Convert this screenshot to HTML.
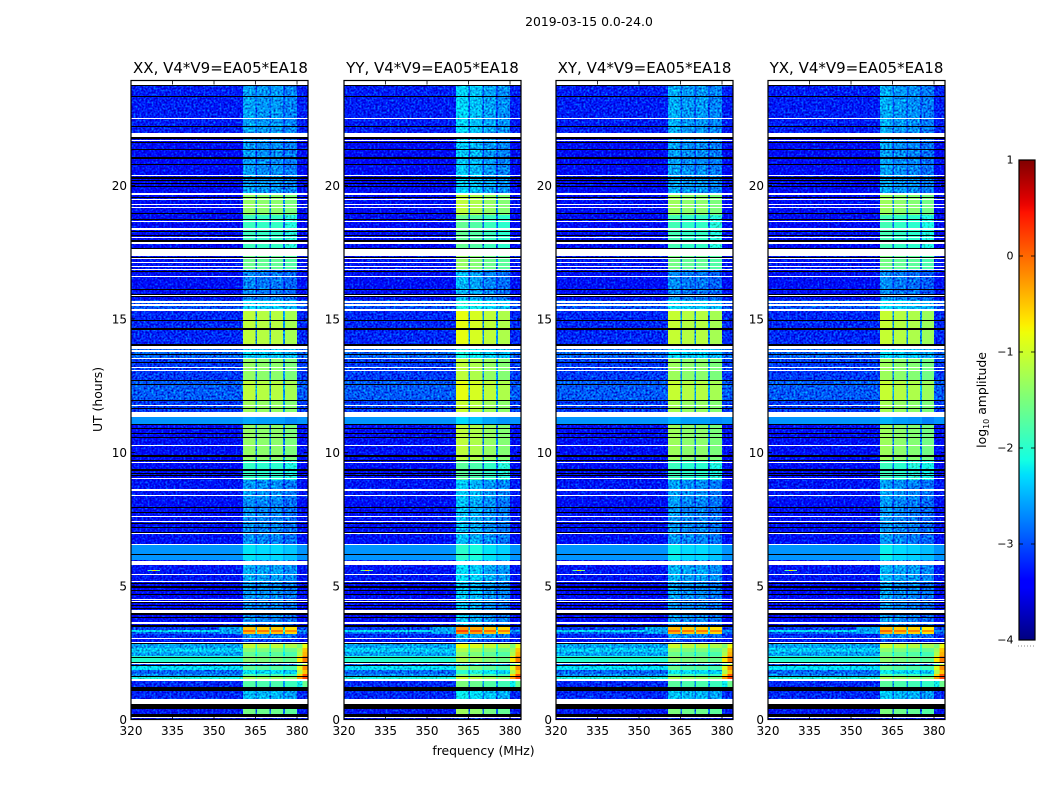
<!DOCTYPE html>
<html>
<head>
<meta charset="utf-8">
<title>2019-03-15 0.0-24.0</title>
<style>
html,body{margin:0;padding:0;background:#fff}
svg{display:block}
text{font-family:"DejaVu Sans","Liberation Sans",sans-serif;fill:#000}
</style>
</head>
<body>
<svg id="figure" xmlns="http://www.w3.org/2000/svg" width="1050" height="800" viewBox="0 0 1050 800">
  <defs>
    <filter id="mottle" x="0" y="0" width="1" height="1" color-interpolation-filters="sRGB">
      <feTurbulence type="fractalNoise" baseFrequency="0.5" numOctaves="2" seed="4" result="n"/>
      <feColorMatrix in="n" type="matrix" result="grain" values="0 0 0 0 0.5  1.3 0 0 0 -0.15  1.0 0 0 0 0  0 0 0 0 1"/>
      <feComposite in="SourceGraphic" in2="grain" operator="arithmetic" k1="0" k2="1" k3="1" k4="-0.5"/>
    </filter>
    <linearGradient id="jet-gradient" x1="0" y1="1" x2="0" y2="0"></linearGradient>
  </defs>
  <rect width="1050" height="800" fill="#fff"/>
  <text x="589" y="26" font-size="12.4" text-anchor="middle">2019-03-15 0.0-24.0</text>
  <text x="220.5" y="73" font-size="15" text-anchor="middle">XX, V4*V9=EA05*EA18</text>
  <text x="432.5" y="73" font-size="15" text-anchor="middle">YY, V4*V9=EA05*EA18</text>
  <text x="644.5" y="73" font-size="15" text-anchor="middle">XY, V4*V9=EA05*EA18</text>
  <text x="856.5" y="73" font-size="15" text-anchor="middle">YX, V4*V9=EA05*EA18</text>
  <text x="483.5" y="755" font-size="12.4" text-anchor="middle">frequency (MHz)</text>
  <text transform="translate(102,399.5) rotate(-90)" font-size="12.4" text-anchor="middle">UT (hours)</text>
  <text transform="translate(986,400) rotate(-90)" font-size="12.4" text-anchor="middle">log<tspan font-size="8" dy="3">10</tspan><tspan dy="-3"> amplitude</tspan></text>
  <g id="panels"></g>
  <g id="colorbar"></g>
</svg>
<script>
/* ---------- chart data ---------- */
const freqTicks = [320, 335, 350, 365, 380];
const utTicks = [0, 5, 10, 15, 20];
const colorTicks = [1, 0, -1, -2, -3, -4];
const panelNames = ['xx', 'yy', 'xy', 'yx'];
/* frequency column edges in MHz and what each column is */
const freqEdges = [320, 360.5, 365, 365.6, 370, 370.6, 375, 375.7, 380, 382, 384];
const columnKinds = ['off', 'on0', 'gap', 'on1', 'gap', 'on2', 'gap', 'on3', 'edgeA', 'edgeB'];
/* time band edges in UT hours, top to bottom */
const bandEdges = [23.76,21.97,20.36,19.68,18.89,17.58,16.84,15.71,15.34,14.03,13.54,12.68,11.97,11.52,11.07,9.72,8.97,8.22,6.54,5.97,5.2,4.55,3.50,3.35,3.27,3.20,3.01,2.87,2.68,2.53,2.38,2.16,2.00,1.85,1.70,1.63,1.44,1.22,0.77,0.39,0.21,0];
/* log10 amplitude per time band */
const offBand = [-3.25,-3.4,-3.4,-3.4,-3.4,-3.3,-3.35,-3.0,-3.2,-2.9,-3.1,-2.95,-3.1,-2.65,-3.35,-3.4,-3.3,-3.35,-2.65,-3.3,-3.45,-3.4,-3.1,-2.3,-2.9,-3.2,-3.3,-2.6,-2.4,-2.6,-2.0,-3.0,-2.3,-2.9,-2.7,-2.1,-3.2,-3.2,-3.2,-3.3,-3.4];
const onBand = [-2.65,-2.7,-2.65,-1.4,-1.95,-1.65,-2.8,-2.4,-1.15,-2.4,-1.4,-1.15,-1.35,-2.6,-1.4,-2.0,-2.7,-2.75,-2.3,-2.6,-2.7,-2.75,-0.55,-0.1,-0.5,-2.75,-3.1,-1.1,-1.5,-1.7,-1.5,-2.6,-1.7,-2.3,-1.8,-1.3,-1.8,-2.5,-2.5,-1.6,-3.3];
const gapBand = [-3.0,-3.1,-3.1,-2.7,-2.9,-2.8,-3.1,-2.7,-2.7,-2.7,-2.7,-2.6,-2.7,-2.6,-2.8,-2.9,-3.1,-3.1,-2.5,-3.0,-3.1,-3.1,-2.5,-1.7,-2.3,-3.0,-3.2,-2.0,-2.0,-2.2,-1.8,-2.8,-2.0,-2.6,-2.2,-1.7,-2.7,-2.9,-2.9,-2.9,-3.4];
const edgeBandA = [-3.25,-3.4,-3.4,-3.4,-3.4,-3.3,-3.35,-3.0,-3.2,-2.9,-3.1,-2.95,-3.1,-2.65,-3.35,-3.4,-3.3,-3.35,-2.65,-3.3,-3.45,-3.4,-3.1,-2.7,-2.9,-3.2,-3.3,-1.5,-1.3,-1.2,-0.7,-1.8,-0.9,-1.2,-0.6,-0.3,-2.2,-3.2,-3.2,-3.3,-3.4];
const edgeBandB = [-3.25,-3.4,-3.4,-3.4,-3.4,-3.3,-3.35,-3.0,-3.2,-2.9,-3.1,-2.95,-3.1,-2.65,-3.35,-3.4,-3.3,-3.35,-2.65,-3.3,-3.45,-3.4,-3.1,-2.7,-2.9,-3.2,-3.3,-0.8,-0.5,-0.4,-0.1,-1.0,-0.2,-0.5,0.1,0.2,-1.6,-3.2,-3.2,-3.3,-3.4];
/* per-panel brightness change of the four on-source sub-bands */
const panelBandShiftXX = [0.05, 0, 0, -0.1];
const panelBandShiftYY = [0.3, 0.2, 0.05, -0.05];
const panelBandShiftXY = [0.1, 0, 0, -0.1];
const panelBandShiftYX = [0.1, 0, -0.05, -0.15];
/* time bands (by top edge, hours) that look smooth, without receiver noise */
const smoothBandTops = [11.52, 6.54];
/* faint shoulder below the on-source block around 3.3 UT */
const shoulderFreq = [352, 360.5];
const shoulderHours = [3.5, 3.2];
const shoulderLevel = -2.6;
/* flagged (blank) time ranges, top/bottom hours */
const flaggedStart = [22.52,21.98,21.71,20.39,19.71,19.50,19.32,19.20,18.67,18.40,18.07,17.87,17.62,17.27,17.14,16.98,16.86,16.61,15.91,15.68,15.55,15.38,14.00,13.83,13.55,13.19,13.10,11.77,11.53,10.28,9.65,9.04,8.63,8.41,7.62,7.45,7.00,6.58,5.95,5.45,5.19,4.52,4.44,4.11,3.64,3.06,2.89,2.10,1.52,0.77,0.09];
const flaggedEnd = [22.49,21.80,21.68,20.35,19.65,19.48,19.29,19.18,18.64,18.33,18.04,17.81,17.36,17.25,17.12,16.96,16.83,16.58,15.87,15.60,15.47,15.31,13.87,13.76,13.51,13.15,13.06,11.73,11.33,10.24,9.62,9.01,8.55,8.37,7.57,7.41,6.96,6.54,5.80,5.41,5.15,4.49,4.40,3.99,3.59,3.01,2.85,2.07,1.44,0.58,0.04];
/* zero-amplitude (black) time ranges, top/bottom hours */
const zeroStart = [23.75,23.36,22.23,21.80,21.62,21.38,21.05,20.80,20.31,20.20,20.08,20.00,19.58,18.98,18.73,18.31,18.16,17.95,17.67,17.33,16.80,16.11,15.95,15.87,14.95,14.65,14.05,13.69,13.40,12.71,12.56,11.97,11.67,11.07,10.92,10.72,10.59,9.89,9.72,9.37,9.24,9.16,7.95,7.77,7.37,7.20,7.03,6.20,5.12,5.00,4.85,4.70,4.40,4.30,4.16,3.98,3.85,3.53,2.85,2.35,2.16,2.04,1.63,1.23,0.57,0.21,0.03];
const zeroEnd = [23.72,23.32,22.20,21.75,21.58,21.33,21.00,20.77,20.25,20.17,20.04,19.98,19.54,18.96,18.70,18.27,18.13,17.89,17.63,17.30,16.76,16.09,15.91,15.83,14.91,14.60,14.00,13.65,13.36,12.67,12.53,11.92,11.62,11.03,10.89,10.68,10.55,9.84,9.69,9.32,9.19,9.14,7.91,7.74,7.32,7.17,7.01,6.17,5.07,4.92,4.81,4.65,4.36,4.25,4.13,3.92,3.80,3.48,2.83,2.30,2.12,2.00,1.59,1.06,0.39,0.10,0];
/* narrow interference feature near 5.6 UT */
const spikeHours = 5.6;
const spikeFreqEdges = [326, 327.5, 329, 330.5];
const spikeLevels = [-1.8, -0.6, -1.6];

/* ---------- layout and scales ---------- */
const NS = 'http://www.w3.org/2000/svg';
const panelLefts = [131, 344, 556, 768];
const panelWidth = 177;
const plotTop = 80.5, plotBottom = 719.5;
const pxPerHour = 26.7, pxPerMHz = 2.767;
const noisyBelow = -2.05;
const yScale = h => plotBottom - h * pxPerHour;
const xScale = (left, f) => left + (f - 320) * pxPerMHz;

function jetChannel(t, pts) {
  for (let i = 1; i < pts.length; i++) {
    if (t <= pts[i][0]) {
      const a = pts[i - 1], b = pts[i];
      return a[1] + (b[1] - a[1]) * (t - a[0]) / (b[0] - a[0]);
    }
  }
  return pts[pts.length - 1][1];
}
function jet(t) {
  t = Math.max(0, Math.min(1, t));
  const r = jetChannel(t, [[0, 0], [0.35, 0], [0.66, 1], [0.89, 1], [1, 0.5]]);
  const g = jetChannel(t, [[0, 0], [0.125, 0], [0.375, 1], [0.64, 1], [0.91, 0], [1, 0]]);
  const b = jetChannel(t, [[0, 0.5], [0.11, 1], [0.34, 1], [0.65, 0], [1, 0]]);
  return 'rgb(' + Math.round(r * 255) + ',' + Math.round(g * 255) + ',' + Math.round(b * 255) + ')';
}
const colorFor = v => jet((v + 4) / 5);

function make(parent, tag, attrs, text) {
  const el = document.createElementNS(NS, tag);
  for (const k in attrs) el.setAttribute(k, attrs[k]);
  if (text !== undefined) el.textContent = text;
  parent.appendChild(el);
  return el;
}
function levelFor(kind, b, shift) {
  if (kind === 'off') return offBand[b];
  if (kind === 'gap') return gapBand[b];
  if (kind === 'edgeA') return edgeBandA[b];
  if (kind === 'edgeB') return edgeBandB[b];
  return onBand[b] + shift[+kind.charAt(2)];
}
/* whole-pixel row so thin flagged/zero lines stay crisp */
function addRow(group, x, w, hTop, hBottom, fill) {
  const y0 = Math.round(yScale(hTop));
  const h = Math.max(1, Math.round(yScale(hBottom)) - y0);
  make(group, 'rect', { x: x, y: y0, width: w, height: h, fill: fill });
}

/* ---------- panels ---------- */
const panelsRoot = document.getElementById('panels');
const panelShifts = [panelBandShiftXX, panelBandShiftYY, panelBandShiftXY, panelBandShiftYX];

panelLefts.forEach(function (left, p) {
  const panel = make(panelsRoot, 'g', {});
  
  

  const cells = make(panel, 'g', { filter: 'url(#mottle)', 'shape-rendering': 'crispEdges' });
  
  

  const smoothCells = make(panel, 'g', { 'shape-rendering': 'crispEdges' });
  
  

  for (let b = 0; b < bandEdges.length - 1; b++) {
    const y0 = yScale(bandEdges[b]), y1 = yScale(bandEdges[b + 1]);
    for (let c = 0; c < columnKinds.length; c++) {
      const x0 = xScale(left, freqEdges[c]), x1 = xScale(left, freqEdges[c + 1]);
      const v = levelFor(columnKinds[c], b, panelShifts[p]);
      const smooth = v > noisyBelow || smoothBandTops.indexOf(bandEdges[b]) >= 0;
      const cell = make(smooth ? smoothCells : cells, 'rect', { x: x0, y: y0, width: x1 - x0, height: y1 - y0, fill: colorFor(v) });
      
      
    }
  }
  const sx0 = xScale(left, shoulderFreq[0]), sx1 = xScale(left, shoulderFreq[1]);
  const shoulder = make(cells, 'rect', { x: sx0, y: yScale(shoulderHours[0]), width: sx1 - sx0, height: yScale(shoulderHours[1]) - yScale(shoulderHours[0]), fill: colorFor(shoulderLevel) });
  
  

  const spikes = make(panel, 'g', { 'shape-rendering': 'crispEdges' });
  
  
  spikeLevels.forEach(function (v, i) {
    const x0 = xScale(left, spikeFreqEdges[i]), x1 = xScale(left, spikeFreqEdges[i + 1]);
    make(spikes, 'rect', { x: x0, y: Math.round(yScale(spikeHours)), width: x1 - x0, height: 1, fill: colorFor(v) });
  });

  const x0 = xScale(left, freqEdges[0]);
  const fullW = xScale(left, freqEdges[freqEdges.length - 1]) - x0;

  const flagged = make(panel, 'g', { 'shape-rendering': 'crispEdges' });
  
  
  flaggedStart.forEach(function (h, i) {
    addRow(flagged, x0, fullW, h, flaggedEnd[i], '#fff');
  });

  const zeros = make(panel, 'g', { 'shape-rendering': 'crispEdges' });
  
  
  zeroStart.forEach(function (h, i) {
    addRow(zeros, x0, fullW, h, zeroEnd[i], '#000');
  });

  const frame = make(panel, 'rect', { x: left, y: plotTop, width: panelWidth, height: plotBottom - plotTop, fill: 'none', stroke: '#000', 'stroke-width': 1.2 });
  
  

  freqTicks.forEach(function (f) {
    const x = xScale(left, f);
    const tickB = make(panel, 'line', { x1: x, x2: x, y1: plotBottom, y2: plotBottom - 4, stroke: '#000', 'stroke-width': 0.8 });
    
    
    const tickT = make(panel, 'line', { x1: x, x2: x, y1: plotTop, y2: plotTop + 4, stroke: '#000', 'stroke-width': 0.8 });
    
    
    const lab = make(panel, 'text', { x: x, y: 735, 'font-size': 12, 'text-anchor': 'middle' }, String(f));
    
    
  });
  utTicks.forEach(function (h) {
    const y = yScale(h);
    const tickL = make(panel, 'line', { x1: left, x2: left + 4, y1: y, y2: y, stroke: '#000', 'stroke-width': 0.8 });
    
    
    const tickR = make(panel, 'line', { x1: left + panelWidth, x2: left + panelWidth - 4, y1: y, y2: y, stroke: '#000', 'stroke-width': 0.8 });
    
    
    const lab = make(panel, 'text', { x: left - 4, y: y + 4.5, 'font-size': 12, 'text-anchor': 'end' }, String(h));
    
    
  });
});

/* ---------- colorbar ---------- */
const grad = document.getElementById('jet-gradient');
const GRAD_STOPS = 64;
for (let i = 0; i <= GRAD_STOPS; i++) {
  make(grad, 'stop', { offset: i / GRAD_STOPS, 'stop-color': jet(i / GRAD_STOPS) });
}
const cbRoot = document.getElementById('colorbar');
const cbLeft = 1019, cbRight = 1035, cbTop = 160, cbBottom = 640;
const cbScale = v => cbBottom - (v + 4) / 5 * (cbBottom - cbTop);

const cbFill = make(cbRoot, 'rect', { x: cbLeft, y: cbTop, width: cbRight - cbLeft, height: cbBottom - cbTop, fill: 'url(#jet-gradient)', stroke: '#000', 'stroke-width': 1.2 });



colorTicks.forEach(function (v) {
  const y = cbScale(v);
  const tl = make(cbRoot, 'line', { x1: cbLeft, x2: cbLeft + 4, y1: y, y2: y, stroke: '#000', 'stroke-width': 0.8 });
  
  
  const tr = make(cbRoot, 'line', { x1: cbRight, x2: cbRight - 4, y1: y, y2: y, stroke: '#000', 'stroke-width': 0.8 });
  
  
  const label = (v < 0 ? '\u2212' + Math.abs(v) : String(v));
  const t = make(cbRoot, 'text', { x: 1013.5, y: y + 3.5, 'font-size': 11, 'text-anchor': 'end' }, label);
  
  
});

const dots = make(cbRoot, 'line', { x1: 1018, x2: 1034, y1: 646, y2: 646, stroke: '#888', 'stroke-width': 1, 'stroke-dasharray': '1 2' });


</script>
</body>
</html>
